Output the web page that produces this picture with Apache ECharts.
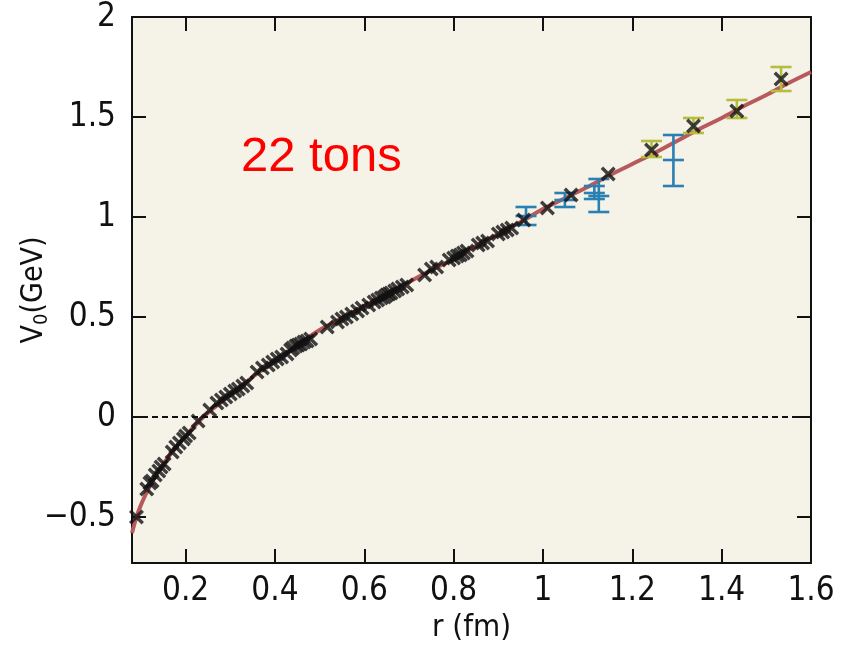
<!DOCTYPE html>
<html>
<head>
<meta charset="utf-8">
<script src="https://cdn.jsdelivr.net/npm/echarts@6/dist/echarts.min.js"></script>
<style>
  html, body { margin: 0; padding: 0; background: #fff; }
  #chart { width: 843px; height: 648px; }
</style>
</head>
<body>
<div id="chart"></div>
<script>
// 拟合曲线
var curveR = [0.08, 0.09, 0.10, 0.11, 0.12, 0.13, 0.14, 0.15, 0.17, 0.19, 0.21, 0.235, 0.26, 0.30, 0.35, 0.40, 0.45, 0.50, 0.55, 0.60, 0.65, 0.70, 0.75, 0.80, 0.85, 0.90, 0.95, 1.00, 1.05, 1.10, 1.15, 1.20, 1.25, 1.30, 1.35, 1.40, 1.45, 1.50, 1.55, 1.60];
var curveV = [-0.58, -0.50, -0.44, -0.39, -0.345, -0.305, -0.27, -0.235, -0.175, -0.12, -0.07, -0.01, 0.04, 0.11, 0.20, 0.28, 0.36, 0.435, 0.495, 0.555, 0.615, 0.675, 0.735, 0.79, 0.855, 0.915, 0.975, 1.04, 1.095, 1.15, 1.21, 1.265, 1.32, 1.38, 1.44, 1.495, 1.555, 1.61, 1.67, 1.725];

// 格点数据（黑色叉号）
var pointR = [0.09, 0.113, 0.12, 0.125, 0.132, 0.14, 0.145, 0.152, 0.17, 0.178, 0.186, 0.195, 0.2, 0.208, 0.228, 0.254,
  0.27, 0.28, 0.29, 0.30, 0.31, 0.318, 0.328, 0.337, 0.36, 0.372, 0.385, 0.395, 0.405, 0.415, 0.427,
  0.435, 0.44, 0.447, 0.452, 0.458, 0.465, 0.472, 0.48, 0.517, 0.54, 0.55, 0.56, 0.572, 0.585, 0.595, 0.61,
  0.622, 0.63, 0.638, 0.645, 0.65, 0.655, 0.66, 0.668, 0.675, 0.685, 0.695, 0.735, 0.75, 0.762,
  0.79, 0.80, 0.808, 0.815, 0.822, 0.83, 0.855, 0.865, 0.876, 0.90, 0.91, 0.92, 0.93, 0.957, 1.01, 1.063, 1.146,
  1.243, 1.337, 1.434, 1.533];
var pointV = [-0.50, -0.36, -0.33, -0.32, -0.29, -0.27, -0.25, -0.235, -0.175, -0.15, -0.13, -0.11, -0.095, -0.08, -0.02, 0.035,
  0.07, 0.085, 0.10, 0.115, 0.13, 0.14, 0.155, 0.17, 0.225, 0.245, 0.26, 0.275, 0.29, 0.30, 0.315,
  0.335, 0.345, 0.355, 0.36, 0.365, 0.375, 0.38, 0.39, 0.45, 0.475, 0.49, 0.50, 0.515, 0.53, 0.545, 0.56,
  0.575, 0.585, 0.595, 0.60, 0.61, 0.615, 0.62, 0.63, 0.64, 0.65, 0.66, 0.71, 0.74, 0.75,
  0.785, 0.795, 0.805, 0.81, 0.82, 0.83, 0.86, 0.87, 0.88, 0.915, 0.925, 0.935, 0.945, 0.985, 1.045, 1.11, 1.215,
  1.335, 1.455, 1.53, 1.69];

// 误差棒：r, 中心, 下限, 上限
var blueR = [0.962, 1.049, 1.115, 1.125, 1.292];
var blueMid = [1.005, 1.085, 1.12, 1.105, 1.285];
var blueLo = [0.96, 1.05, 1.09, 1.025, 1.155];
var blueHi = [1.05, 1.12, 1.155, 1.19, 1.41];

var oliveR = [1.243, 1.337, 1.434, 1.533];
var oliveMid = [1.34, 1.455, 1.54, 1.69];
var oliveLo = [1.30, 1.42, 1.495, 1.63];
var oliveHi = [1.38, 1.495, 1.585, 1.75];

var xTicks = [0.2, 0.4, 0.6, 0.8, 1.0, 1.2, 1.4];
var xLabels = [0.2, 0.4, 0.6, 0.8, 1.0, 1.2, 1.4, 1.6];
var yTicks = [-0.5, 0, 0.5, 1, 1.5];
var yLabels = [-0.5, 0, 0.5, 1, 1.5, 2];

function zip(a, b) {
  return a.map(function(v, i) { return [v, b[i]]; });
}
function zip4(a, b, c, d) {
  return a.map(function(v, i) { return [v, b[i], c[i], d[i]]; });
}

var labelFont = '"Liberation Sans Narrow", "DejaVu Sans Condensed", Roboto, sans-serif';

function fmtNum(v) {
  v = Number(v);
  if (v < 0) return '\u2212' + Math.abs(v);
  return String(v);
}

// 误差棒绘制
function makeErrRender(color, showMid) {
  return function(params, api) {
    var x = api.value(0);
    var pMid = api.coord([x, api.value(1)]);
    var pLo = api.coord([x, api.value(2)]);
    var pHi = api.coord([x, api.value(3)]);
    var w = 10.5;
    var style = { stroke: color, lineWidth: 2.6 };
    var children = [
      { type: 'line', shape: { x1: pLo[0], y1: pLo[1], x2: pHi[0], y2: pHi[1] }, style: style },
      { type: 'line', shape: { x1: pLo[0] - w, y1: pLo[1], x2: pLo[0] + w, y2: pLo[1] }, style: style },
      { type: 'line', shape: { x1: pHi[0] - w, y1: pHi[1], x2: pHi[0] + w, y2: pHi[1] }, style: style }
    ];
    if (showMid) {
      children.push({ type: 'line', shape: { x1: pMid[0] - w, y1: pMid[1], x2: pMid[0] + w, y2: pMid[1] }, style: style });
    }
    return { type: 'group', children: children };
  };
}

var crossPath = 'path://M0,1.6L1.6,0L5,3.4L8.4,0L10,1.6L6.6,5L10,8.4L8.4,10L5,6.6L1.6,10L0,8.4L3.4,5Z';

var chart = echarts.init(document.getElementById('chart'));
var option = {
  animation: false,
  backgroundColor: '#ffffff',
  grid: {
    left: 132, right: 32, top: 17, bottom: 85,
    outerBoundsMode: 'none', containLabel: false,
    show: true, backgroundColor: '#f5f2e8', borderWidth: 0
  },
  xAxis: [{
    type: 'value', min: 0.08, max: 1.6, position: 'bottom',
    name: 'r (fm)', nameLocation: 'middle', nameGap: 48,
    nameTextStyle: { fontSize: 31, color: '#111', fontFamily: labelFont },
    axisLine: { show: true, onZero: false, lineStyle: { color: '#111', width: 2 } },
    axisTick: { show: true, inside: true, length: 14, customValues: xTicks, lineStyle: { color: '#111', width: 2 } },
    axisLabel: { customValues: xLabels, margin: 12, fontSize: 33, color: '#111', fontFamily: labelFont, formatter: fmtNum },
    splitLine: { show: false }
  }, {
    type: 'value', min: 0.08, max: 1.6, position: 'top',
    axisLine: { show: true, onZero: false, lineStyle: { color: '#111', width: 2 } },
    axisTick: { show: true, inside: true, length: 14, customValues: xTicks, lineStyle: { color: '#111', width: 2 } },
    axisLabel: { show: false },
    splitLine: { show: false }
  }],
  yAxis: [{
    type: 'value', min: -0.73, max: 2, position: 'left',
    name: 'V{sub|0}(GeV)', nameLocation: 'middle', nameGap: 80, nameRotate: 90,
    nameMoveOverlap: false,
    nameTextStyle: {
      fontSize: 30, color: '#111', fontFamily: labelFont,
      rich: { sub: { fontSize: 20, color: '#111', fontFamily: labelFont, verticalAlign: 'bottom', padding: [16, 0, 0, 0] } }
    },
    axisLine: { show: true, onZero: false, lineStyle: { color: '#111', width: 2 } },
    axisTick: { show: true, inside: true, length: 14, customValues: yTicks, lineStyle: { color: '#111', width: 2 } },
    axisLabel: { customValues: yLabels, margin: 16, fontSize: 33, color: '#111', fontFamily: labelFont, formatter: fmtNum },
    splitLine: { show: false }
  }, {
    type: 'value', min: -0.73, max: 2, position: 'right',
    axisLine: { show: true, onZero: false, lineStyle: { color: '#111', width: 2 } },
    axisTick: { show: true, inside: true, length: 14, customValues: yTicks, lineStyle: { color: '#111', width: 2 } },
    axisLabel: { show: false },
    splitLine: { show: false }
  }],
  graphic: [{
    type: 'text', left: 241, top: 133, z: 100,
    style: { text: '22 tons', fill: '#ff0000', fontSize: 49, fontFamily: '"Liberation Sans", Arial, sans-serif' }
  }],
  series: [{
    type: 'line', name: 'fit', data: zip(curveR, curveV),
    showSymbol: false, smooth: 0.3, z: 2,
    lineStyle: { color: '#b85a5c', width: 4 },
    markLine: {
      silent: true, symbol: ['none', 'none'], label: { show: false },
      lineStyle: { color: '#111', type: [6, 4], width: 2 },
      data: [{ yAxis: 0 }]
    }
  }, {
    type: 'custom', name: 'blue', renderItem: makeErrRender('#2a7fb3', true),
    data: zip4(blueR, blueMid, blueLo, blueHi), encode: { x: 0, y: [1, 2, 3] }, z: 3
  }, {
    type: 'custom', name: 'olive', renderItem: makeErrRender('#b4bd3c', false),
    data: zip4(oliveR, oliveMid, oliveLo, oliveHi), encode: { x: 0, y: [1, 2, 3] }, z: 3
  }, {
    type: 'scatter', name: 'lattice', data: zip(pointR, pointV),
    symbol: crossPath, symbolSize: 15, z: 4,
    itemStyle: { color: '#111' }
  }]
};
chart.setOption(option);
</script>
</body>
</html>
